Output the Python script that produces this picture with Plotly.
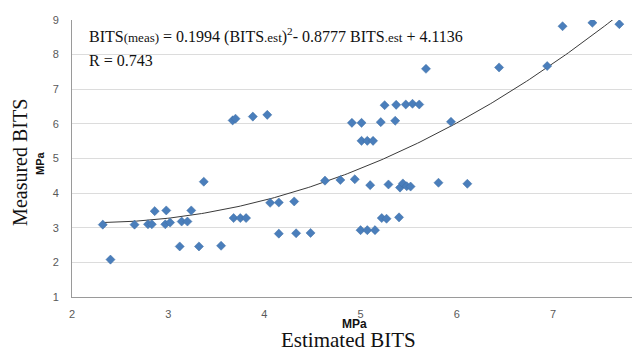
import numpy as np
import plotly.graph_objects as go

est = [2.32, 2.40, 2.65, 2.79, 2.83, 2.86, 2.98, 2.97, 3.02, 3.14, 3.20, 3.24, 3.37, 3.12, 3.32,
       3.55, 3.68, 3.75, 3.81, 3.67, 3.70, 3.88, 4.03, 4.06, 4.15, 4.31, 4.15, 4.33, 4.48, 4.63,
       4.79, 4.94, 5.10, 5.29, 5.41, 5.44, 5.48, 5.52, 5.81, 6.11, 5.00, 5.07, 5.15, 5.22, 5.27,
       5.40, 4.91, 5.01, 5.21, 5.36, 5.25, 5.37, 5.47, 5.54, 5.61, 5.01, 5.07, 5.13, 5.94, 5.68,
       6.44, 6.94, 7.10, 7.41, 7.69]
meas = [3.09, 2.08, 3.09, 3.10, 3.10, 3.48, 3.50, 3.10, 3.15, 3.18, 3.18, 3.50, 4.33, 2.46, 2.46,
        2.48, 3.28, 3.28, 3.28, 6.10, 6.15, 6.21, 6.26, 3.72, 3.73, 3.76, 2.83, 2.84, 2.85, 4.36,
        4.38, 4.40, 4.23, 4.25, 4.16, 4.28, 4.20, 4.19, 4.30, 4.27, 2.93, 2.93, 2.93, 3.28, 3.26,
        3.30, 6.03, 6.03, 6.05, 6.09, 6.54, 6.55, 6.56, 6.58, 6.56, 5.51, 5.51, 5.51, 6.06, 7.59,
        7.63, 7.67, 8.82, 8.92, 8.88]

# trendline coefficients as printed on the chart
coef_a, coef_b, coef_c = 0.1994, -0.8777, 4.1136
x_ticks = [2, 3, 4, 5, 6, 7]
y_ticks = [1, 2, 3, 4, 5, 6, 7, 8, 9]

xs = np.linspace(min(est), 7.7, 200)
ys = coef_a * xs**2 + coef_b * xs + coef_c

fig = go.Figure()
fig.add_trace(go.Scatter(x=xs, y=ys, mode="lines",
                         line=dict(color="#3a3a3a", width=1), hoverinfo="skip"))
fig.add_trace(go.Scatter(x=est, y=meas, mode="markers",
                         marker=dict(symbol="diamond", size=7, color="#4A7EBB",
                                     line=dict(color="#3f6fa5", width=0.5))))

tickfont = dict(family="Liberation Sans", size=11, color="#595959")
# page body has an 8px margin, so the figure is offset by 8px in the window
fig.update_layout(
    width=640, height=352,
    margin=dict(l=64, r=8, t=6, b=63),
    plot_bgcolor="white", paper_bgcolor="white",
    showlegend=False,
    xaxis=dict(range=[2, 7.905], tickvals=x_ticks, showgrid=False, zeroline=False,
               showline=True, linecolor="#9a9a9a", linewidth=1, ticks="",
               tickfont=tickfont, ticklabelstandoff=7, ticklabeloverflow="allow"),
    yaxis=dict(range=[1, 9], tickvals=y_ticks, showgrid=True, gridcolor="#dcdcdc",
               gridwidth=1, zeroline=False, showline=True, linecolor="#9a9a9a",
               linewidth=1, ticks="", tickfont=tickfont, ticklabelstandoff=10,
               ticklabeloverflow="allow"),
)

sm = "<span style='font-size:13px'>"
eq = ("BITS" + sm + "(meas)</span> = 0.1994 (BITS" + sm + ".est</span>)<sup>2</sup>- 0.8777 BITS"
      + sm + ".est</span> + 4.1136")
serif = "Liberation Serif"
ann = [
    dict(x=2.155, y=8.56, xref="x", yref="y", text=eq, showarrow=False, xanchor="left",
         yanchor="middle", font=dict(family=serif, size=16, color="#111")),
    dict(x=2.155, y=7.84, xref="x", yref="y", text="R = 0.743", showarrow=False,
         xanchor="left", yanchor="middle", font=dict(family=serif, size=16, color="#111")),
    dict(x=(20 - 72) / 568, y=(297 - 160) / 283, xref="paper", yref="paper",
         text="Measured BITS", textangle=-90, showarrow=False, xanchor="center",
         yanchor="middle", font=dict(family=serif, size=20, color="#111")),
    dict(x=(40 - 72) / 568, y=(297 - 160) / 283, xref="paper", yref="paper",
         text="<b>MPa</b>", textangle=-90, showarrow=False, xanchor="center",
         yanchor="middle", font=dict(family="Liberation Sans", size=11, color="#111")),
    dict(x=(354 - 72) / 568, y=(297 - 325) / 283, xref="paper", yref="paper",
         text="<b>MPa</b>", showarrow=False, xanchor="center", yanchor="middle",
         font=dict(family="Liberation Sans", size=12, color="#111")),
    dict(x=(348 - 72) / 568, y=(297 - 341) / 283, xref="paper", yref="paper",
         text="Estimated BITS", showarrow=False, xanchor="center", yanchor="middle",
         font=dict(family=serif, size=21, color="#111")),
]
fig.update_layout(annotations=ann)
fig.write_html("out.html")
